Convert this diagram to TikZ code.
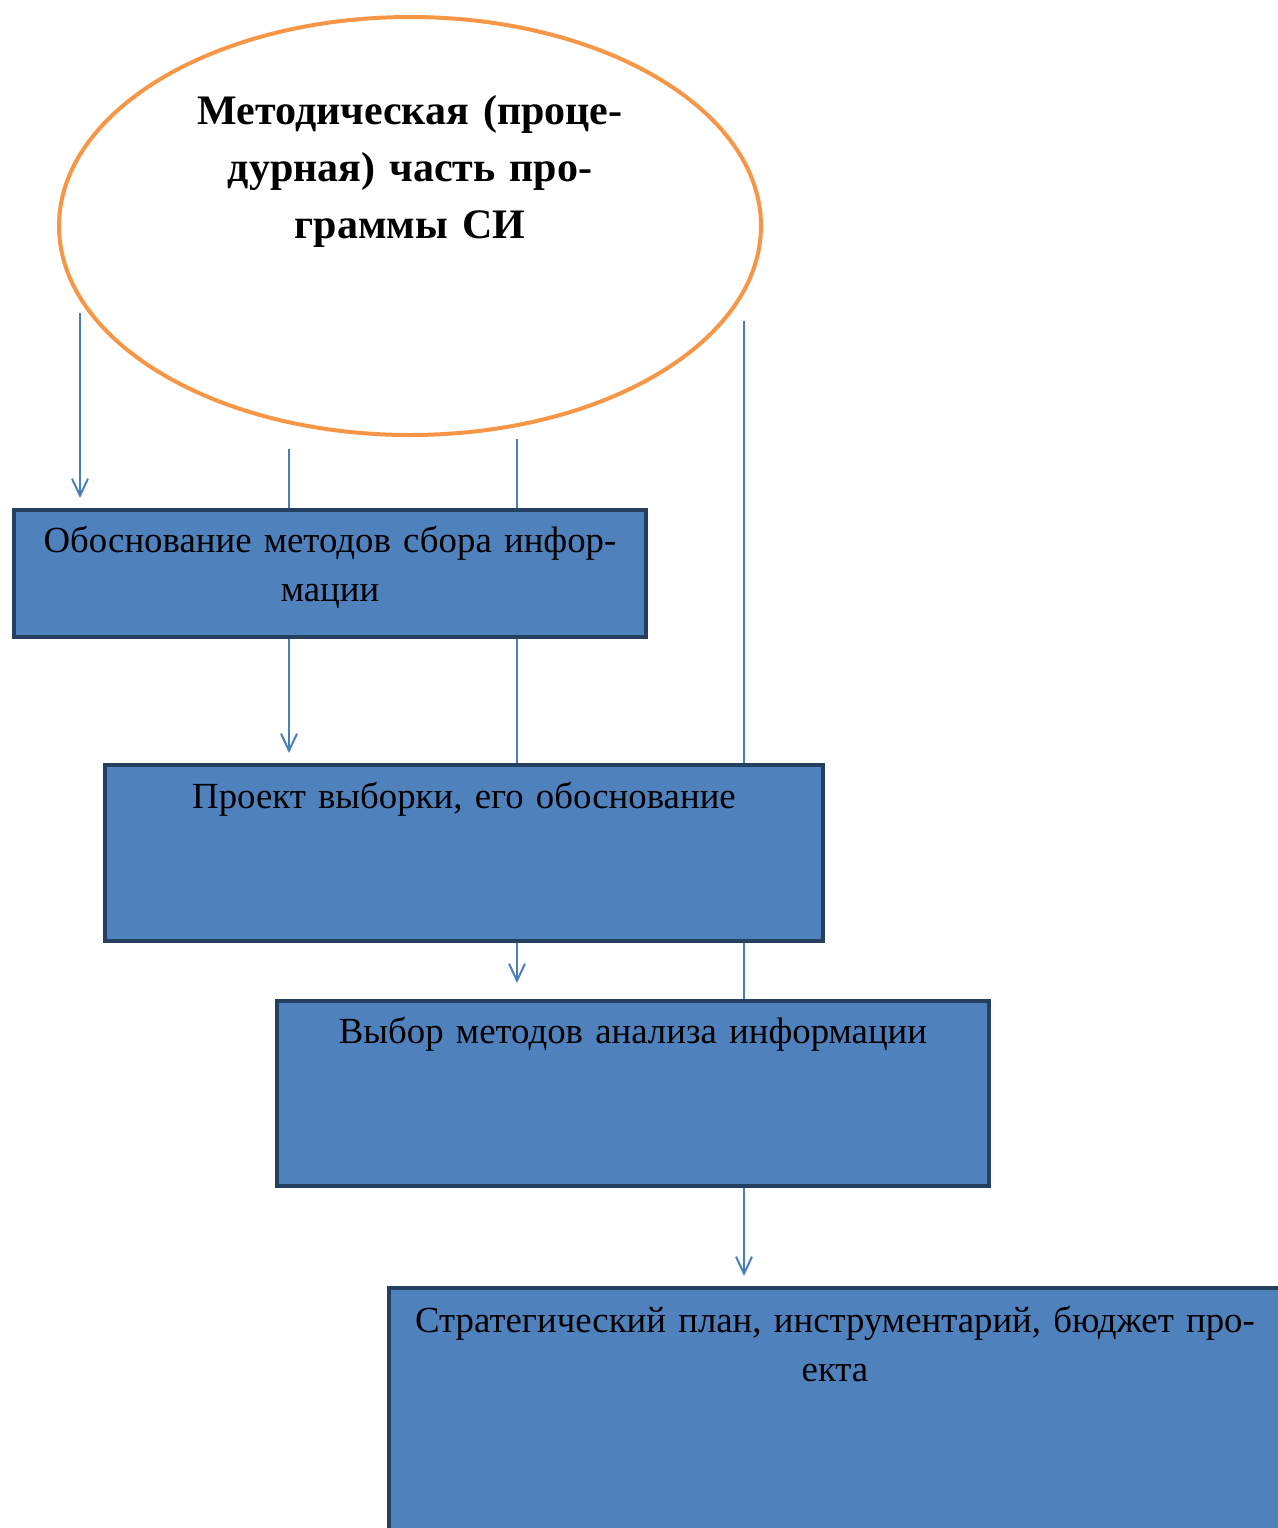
\documentclass[tikz,border=0pt]{standalone}
\usepackage{fontspec}
\setmainfont{Liberation Serif}
\usetikzlibrary{shapes.geometric,arrows.meta}
\definecolor{stagefill}{HTML}{4F81BD}
\definecolor{stageline}{HTML}{243F60}
\definecolor{linkblue}{HTML}{4A7EBB}
\definecolor{coreline}{HTML}{F79646}

\begin{document}
\begin{tikzpicture}[x=0.5pt,y=-0.5pt]
\tikzstyle{core}=[ellipse,draw=coreline,line width=2pt,minimum width=351pt,minimum height=209pt,inner sep=0pt,align=center,text width=230pt,text height=16pt,text depth=118pt,font=\bfseries\fontsize{21pt}{28.5pt}\selectfont]
\tikzstyle{stage}=[rectangle,draw=stageline,fill=stagefill,line width=2pt,inner sep=0pt,anchor=north,align=center,font=\fontsize{18.4pt}{24.5pt}\selectfont]
\tikzstyle{link}=[draw=linkblue,line width=1pt]
\tikzstyle{arrow}=[link,-{Straight Barb[length=8.5pt,width=8pt]},shorten >=5pt]
\useasboundingbox (0,0) rectangle (1278,1528);
\node[core] (core) at (410,226) {Методическая (проце-\\дурная) часть про-\\граммы СИ};
\node[stage,text width=316pt,text height=21pt,text depth=42.5pt] (b1) at (330,508) {Обоснование методов сбора инфор-\\мации};
\node[stage,text width=359pt,text height=21.5pt,text depth=66.5pt] (b2) at (464,763) {Проект выборки, его обоснование};
\node[stage,text width=356pt,text height=21pt,text depth=71.5pt] (b3) at (633,999) {Выбор методов анализа информации};
\node[stage,text width=446pt,text height=22pt,text depth=115pt] (b4) at (835,1286) {Стратегический план, инструментарий, бюджет про-\\екта};
\coordinate (s1) at (80,313);
\coordinate (s2) at (289,449);
\coordinate (s3) at (517,439);
\coordinate (s4) at (744,321);
\draw[arrow] (s1) -- (s1 |- b1.north);
\draw[link] (s2) -- (s2 |- b1.north);
\draw[link] (s3) -- (s3 |- b1.north);
\draw[link] (s4) -- (s4 |- b2.north);
\draw[arrow] (b1.south -| s2) -- (b2.north -| s2);
\draw[link] (b1.south -| s3) -- (b2.north -| s3);
\draw[arrow,shorten >=8pt] (b2.south -| s3) -- (b3.north -| s3);
\draw[link] (b2.south -| s4) -- (b3.north -| s4);
\draw[arrow] (b3.south -| s4) -- (b4.north -| s4);
\end{tikzpicture}
\end{document}
